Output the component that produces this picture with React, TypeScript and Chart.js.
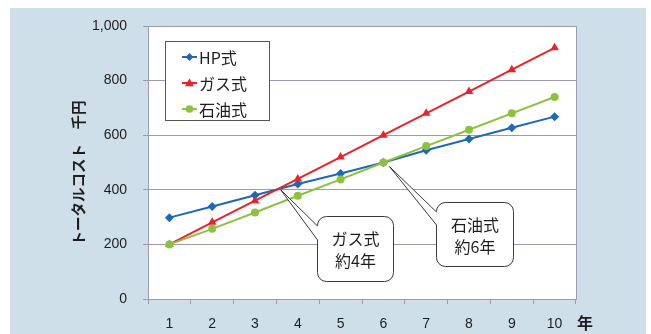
import React, { useEffect, useRef } from 'react';
import { Chart, registerables } from 'chart.js';

Chart.register(...registerables);

// ---- data ----
const categories = ['1', '2', '3', '4', '5', '6', '7', '8', '9', '10'];
const seriesNames = ['HP式', 'ガス式', '石油式'];
const hpValues = [298, 339, 380, 421, 460, 500, 545, 586, 627, 668];
const gasValues = [200, 281, 360, 440, 520, 600, 680, 760, 840, 920];
const oilValues = [200, 257, 317, 378, 438, 500, 560, 620, 680, 740];
const yTickValues = [0, 200, 400, 600, 800, 1000];
const yAxisTitle = 'トータルコスト　千円';
const xAxisUnit = '年';
const callout1Lines = ['ガス式', '約4年'];
const callout2Lines = ['石油式', '約6年'];

const BLUE = '#1f68b8';
const RED = '#e8232b';
const GREEN = '#8cc23f';
const GRID = '#9a9ab2';
const JP = '"Noto Sans CJK JP", "Noto Sans", sans-serif';
const NUM = '"Liberation Sans", Arial, sans-serif';

function drawMarker(ctx: CanvasRenderingContext2D, style: string, x: number, y: number, r: number, color: string) {
  ctx.save();
  ctx.fillStyle = color;
  ctx.beginPath();
  if (style === 'rectRot') {
    ctx.moveTo(x, y - r);
    ctx.lineTo(x + r, y);
    ctx.lineTo(x, y + r);
    ctx.lineTo(x - r, y);
  } else if (style === 'triangle') {
    ctx.moveTo(x, y - r);
    ctx.lineTo(x + r, y + r * 0.7);
    ctx.lineTo(x - r, y + r * 0.7);
  } else {
    ctx.arc(x, y, r, 0, Math.PI * 2);
  }
  ctx.closePath();
  ctx.fill();
  ctx.restore();
}

function drawCallout(
  ctx: CanvasRenderingContext2D,
  x: number, y: number, w: number, h: number, r: number,
  b1: number, b2: number, tipX: number, tipY: number, lines: string[]
) {
  ctx.save();
  ctx.beginPath();
  ctx.moveTo(x + r, y);
  ctx.lineTo(x + w - r, y);
  ctx.arcTo(x + w, y, x + w, y + r, r);
  ctx.lineTo(x + w, y + h - r);
  ctx.arcTo(x + w, y + h, x + w - r, y + h, r);
  ctx.lineTo(x + r, y + h);
  ctx.arcTo(x, y + h, x, y + h - r, r);
  ctx.lineTo(x, b2);
  ctx.lineTo(tipX, tipY);
  ctx.lineTo(x, b1);
  ctx.lineTo(x, y + r);
  ctx.arcTo(x, y, x + r, y, r);
  ctx.closePath();
  ctx.fillStyle = '#ffffff';
  ctx.fill();
  ctx.strokeStyle = '#3a3a3a';
  ctx.lineWidth = 1;
  ctx.stroke();
  ctx.fillStyle = '#1e1e1e';
  ctx.font = '16px ' + JP;
  ctx.textAlign = 'center';
  ctx.textBaseline = 'middle';
  lines.forEach((t, i) => ctx.fillText(t, x + w / 2, y + 22 + i * 22));
  ctx.restore();
}

const decorPlugin = {
  id: 'decor',
  beforeDraw(chart: any) {
    const { ctx, width, height, chartArea } = chart;
    ctx.save();
    ctx.fillStyle = '#ffffff';
    ctx.fillRect(0, 0, width, height);
    ctx.fillStyle = '#cfdfe9';
    ctx.fillRect(10, 8, 636, height - 8);
    ctx.fillStyle = '#ffffff';
    ctx.fillRect(chartArea.left, chartArea.top, chartArea.right - chartArea.left, chartArea.bottom - chartArea.top);
    ctx.restore();
  },
  afterDraw(chart: any) {
    const { ctx, chartArea } = chart;
    const xs = chart.scales.x;
    const ys = chart.scales.y;
    ctx.save();
    // right border
    ctx.strokeStyle = GRID;
    ctx.lineWidth = 1;
    ctx.beginPath();
    ctx.moveTo(chartArea.right + 0.5, chartArea.top);
    ctx.lineTo(chartArea.right + 0.5, chartArea.bottom);
    ctx.stroke();

    // y axis title
    ctx.save();
    ctx.translate(78, 173);
    ctx.rotate(-Math.PI / 2);
    ctx.fillStyle = '#1e1e1e';
    ctx.font = 'bold 14.5px ' + JP;
    ctx.textAlign = 'center';
    ctx.textBaseline = 'middle';
    ctx.fillText(yAxisTitle, 0, 0);
    ctx.restore();

    // x unit
    ctx.fillStyle = '#1e1e1e';
    ctx.font = 'bold 16px ' + JP;
    ctx.textAlign = 'center';
    ctx.textBaseline = 'middle';
    ctx.fillText(xAxisUnit, 585, 323);

    // legend
    const lx = 165, ly = 41, lw = 104, lh = 79;
    ctx.fillStyle = '#ffffff';
    ctx.fillRect(lx, ly, lw, lh);
    ctx.strokeStyle = '#555555';
    ctx.strokeRect(lx + 0.5, ly + 0.5, lw, lh);
    const colors = [BLUE, RED, GREEN];
    const styles = ['rectRot', 'triangle', 'circle'];
    const sizes = [4, 4.5, 3.8];
    seriesNames.forEach((name, i) => {
      const y = 57 + i * 26;
      ctx.strokeStyle = colors[i];
      ctx.lineWidth = 2;
      ctx.beginPath();
      ctx.moveTo(182, y);
      ctx.lineTo(197, y);
      ctx.stroke();
      drawMarker(ctx, styles[i], 189.5, y, sizes[i], colors[i]);
      ctx.fillStyle = '#1e1e1e';
      ctx.font = '16px ' + JP;
      ctx.textAlign = 'left';
      ctx.textBaseline = 'middle';
      ctx.fillText(name, 199, y + 1);
    });

    // callouts anchored to crossing points
    const t1x = xs.getPixelForValue(2.6);
    const t1y = ys.getPixelForValue(400);
    const t2x = xs.getPixelForValue(5) + 6;
    const t2y = ys.getPixelForValue(500) + 4;
    drawCallout(ctx, 317.5, 216.5, 76, 65, 9, 226, 240, t1x, t1y, callout1Lines);
    drawCallout(ctx, 436.5, 202.5, 77, 64, 9, 212, 225, t2x, t2y, callout2Lines);
    ctx.restore();
  },
};

export default function App() {
  const ref = useRef<HTMLCanvasElement>(null);
  useEffect(() => {
    document.body.style.margin = '0';
    const canvas = ref.current!;
    const chart = new Chart(canvas, {
      type: 'line',
      data: {
        labels: categories,
        datasets: [
          {
            label: seriesNames[0], data: hpValues, borderColor: BLUE, backgroundColor: BLUE,
            borderWidth: 2, pointStyle: 'rectRot', pointRadius: 4.5, pointBorderWidth: 0, order: 2,
          },
          {
            label: seriesNames[1], data: gasValues, borderColor: RED, backgroundColor: RED,
            borderWidth: 2, pointStyle: 'triangle', pointRadius: 5, pointBorderWidth: 0, order: 1,
          },
          {
            label: seriesNames[2], data: oilValues, borderColor: GREEN, backgroundColor: GREEN,
            borderWidth: 2, pointStyle: 'circle', pointRadius: 4, pointBorderWidth: 0, order: 0,
          },
        ],
      },
      options: {
        responsive: false,
        animation: false,
        devicePixelRatio: 1,
        layout: { padding: { top: 26, right: 75, bottom: 0, left: 0 } },
        plugins: { legend: { display: false }, tooltip: { enabled: false } },
        scales: {
          x: {
            offset: true,
            grid: { drawOnChartArea: false, drawTicks: true, tickLength: 5, color: GRID, offset: true },
            border: { display: true, color: GRID },
            ticks: { color: '#1e1e1e', font: { family: NUM, size: 14 }, padding: 12, maxRotation: 0 },
            afterFit: (s: any) => { s.height = 35; },
          },
          y: {
            min: 0,
            max: 1000,
            afterBuildTicks: (s: any) => { s.ticks = yTickValues.map((v) => ({ value: v })); },
            grid: { color: GRID, tickLength: 5, drawTicks: true },
            border: { display: true, color: GRID },
            ticks: {
              color: '#1e1e1e', font: { family: NUM, size: 14 }, padding: 16,
              callback: (v: any) => Number(v).toLocaleString('en-US'),
            },
            afterFit: (s: any) => { s.width = 148; },
          },
        },
      },
      plugins: [decorPlugin],
    });
    return () => chart.destroy();
  }, []);
  return (
    <div style={{ width: 651, height: 334 }}>
      <canvas ref={ref} width={651} height={334} style={{ display: 'block' }} />
    </div>
  );
}
